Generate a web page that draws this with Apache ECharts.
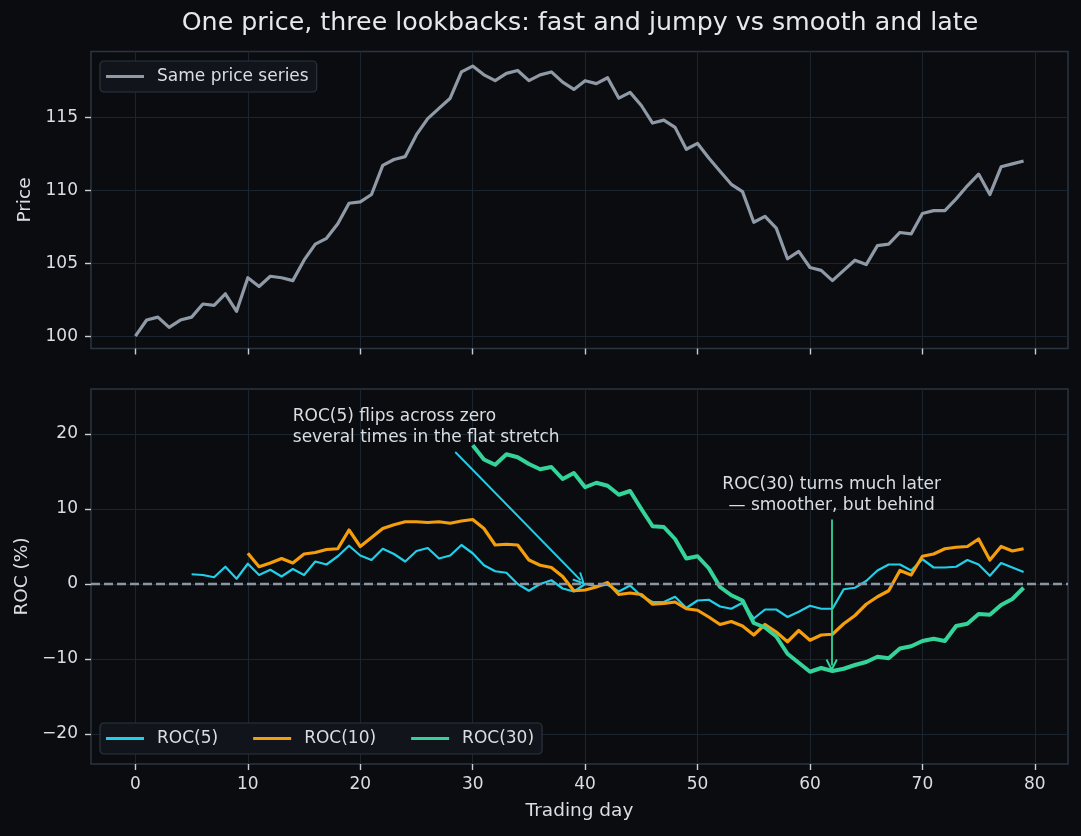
<!DOCTYPE html>
<html>
<head>
<meta charset="utf-8">
<title>One price, three lookbacks</title>
<script src="https://cdn.jsdelivr.net/npm/echarts@6.0.0/dist/echarts.min.js"></script>
<style>
  html, body { margin: 0; padding: 0; background: #0b0c10; }
  #chart { width: 1081px; height: 836px; }
</style>
</head>
<body>
<div id="chart"></div>
<script>
// values
var price = [
    100.0, 101.1, 101.3, 100.6, 101.1, 101.3, 102.2, 102.1, 102.9, 101.7,
    104.0, 103.4, 104.1, 104.0, 103.8, 105.2, 106.3, 106.7, 107.7, 109.1,
    109.2, 109.7, 111.7, 112.1, 112.3, 113.8, 114.9, 115.6, 116.3, 118.1,
    118.5, 117.9, 117.5, 118.0, 118.2, 117.5, 117.9, 118.1, 117.4, 116.9,
    117.5, 117.3, 117.7, 116.3, 116.7, 115.8, 114.6, 114.8, 114.3, 112.8,
    113.2, 112.2, 111.3, 110.4, 109.9, 107.8, 108.2, 107.4, 105.3, 105.8,
    104.7, 104.5, 103.8, 104.5, 105.2, 104.9, 106.2, 106.3, 107.1, 107.0,
    108.4, 108.6, 108.6, 109.4, 110.3, 111.1, 109.7, 111.6, 111.8, 112.0
];

var roc5Start = 5;
var roc5 = [
    1.3, 1.2, 0.9, 2.3, 0.7, 2.7, 1.2, 1.9, 1.0, 2.0,
    1.2, 3.0, 2.6, 3.7, 5.1, 3.8, 3.2, 4.7, 4.0, 3.0,
    4.4, 4.8, 3.4, 3.8, 5.2, 4.1, 2.5, 1.7, 1.5, 0.0,
    -0.9, 0.0, 0.5, -0.6, -1.0, 0.0, -0.3, -0.1, -1.0, -0.2,
    -1.6, -2.4, -2.4, -1.7, -3.2, -2.2, -2.1, -3.0, -3.3, -2.5,
    -4.6, -3.4, -3.4, -4.4, -3.7, -2.9, -3.3, -3.3, -0.7, -0.5,
    0.4, 1.8, 2.6, 2.6, 1.8, 3.3, 2.2, 2.2, 2.3, 3.2,
    2.6, 1.1, 2.8, 2.2, 1.6
];

var roc10Start = 10;
var roc10 = [
    4.1, 2.3, 2.8, 3.4, 2.8, 4.0, 4.2, 4.6, 4.7, 7.2,
    5.0, 6.2, 7.4, 7.9, 8.3, 8.3, 8.2, 8.3, 8.1, 8.4,
    8.6, 7.4, 5.2, 5.3, 5.2, 3.2, 2.5, 2.2, 1.0, -0.9,
    -0.8, -0.4, 0.2, -1.4, -1.2, -1.4, -2.7, -2.6, -2.4, -3.3,
    -3.5, -4.4, -5.4, -5.0, -5.6, -6.8, -5.4, -6.4, -7.7, -6.2,
    -7.5, -6.8, -6.7, -5.3, -4.2, -2.7, -1.7, -0.9, 1.8, 1.2,
    3.7, 4.0, 4.7, 4.9, 5.0, 6.0, 3.2, 5.0, 4.4, 4.7
];

var roc30Start = 30;
var roc30 = [
    18.5, 16.6, 15.9, 17.3, 16.9, 16.0, 15.3, 15.6, 14.0, 14.8,
    12.9, 13.5, 13.1, 11.9, 12.4, 10.0, 7.7, 7.6, 6.0, 3.4,
    3.7, 2.1, -0.4, -1.5, -2.2, -5.2, -5.8, -7.0, -9.3, -10.5,
    -11.7, -11.2, -11.6, -11.3, -10.8, -10.4, -9.7, -9.9, -8.6, -8.3,
    -7.6, -7.3, -7.6, -5.6, -5.3, -4.0, -4.1, -2.8, -2.0, -0.5
];

var dayTicks = [0, 10, 20, 30, 40, 50, 60, 70, 80];
var priceTicks = [100, 105, 110, 115];
var rocTicks = [-20, -10, 0, 10, 20];

var note5 = 'ROC(5) flips across zero\nseveral times in the flat stretch';
var note30 = 'ROC(30) turns much later\n\u2014 smoother, but behind';

var FONT = 'DejaVu Sans';
var TEXT = '#dadee3';
var GRIDLINE = '#1b2530';
var SPINE = '#2b3542';
// open "->" style head, tip at the top so ECharts turns it along the line
var CHEVRON = 'path://M5,0 L10,10 L8.6,10.9 L5,3.6 L1.4,10.9 L0,10 Z';

function toPoints(values, start) {
    return values.map(function (v, i) {
        return [start + i, v];
    });
}

function minusSign(v) {
    return v < 0 ? '\u2212' + Math.abs(v) : String(v);
}

function xAxis(gridIndex, showLabels) {
    return {
        type: 'value',
        gridIndex: gridIndex,
        min: -3.95,
        max: 82.95,
        name: showLabels ? 'Trading day' : '',
        nameLocation: 'middle',
        nameGap: 38,
        nameTextStyle: {color: TEXT, fontSize: 18.5, fontFamily: FONT},
        axisLine: {show: false, onZero: false},
        axisTick: {show: true, inside: false, length: 6, customValues: dayTicks,
            lineStyle: {color: '#c9ced4', width: 1.4}},
        axisLabel: {show: showLabels, customValues: dayTicks, margin: 12,
            color: TEXT, fontSize: 17, fontFamily: FONT},
        splitLine: {show: true, lineStyle: {color: GRIDLINE, width: 1}}
    };
}

function yAxis(gridIndex, name, min, max, ticks, gap) {
    return {
        type: 'value',
        gridIndex: gridIndex,
        min: min,
        max: max,
        name: name,
        nameLocation: 'middle',
        nameGap: gap,
        nameTextStyle: {color: TEXT, fontSize: 18.5, fontFamily: FONT},
        axisLine: {show: false, onZero: false},
        axisTick: {show: true, inside: false, length: 6, customValues: ticks,
            lineStyle: {color: '#c9ced4', width: 1.4}},
        axisLabel: {customValues: ticks, margin: 13, color: TEXT, fontSize: 17,
            fontFamily: FONT, formatter: minusSign},
        splitLine: {show: true, lineStyle: {color: GRIDLINE, width: 1}}
    };
}

function lineSeries(name, data, color, width, axisIndex) {
    return {
        name: name,
        type: 'line',
        xAxisIndex: axisIndex,
        yAxisIndex: axisIndex,
        data: data,
        showSymbol: false,
        symbol: 'none',
        color: color,
        itemStyle: {color: color},
        lineStyle: {color: color, width: width, join: 'round'}
    };
}

var legendBase = {
    icon: 'rect',
    itemWidth: 38,
    itemHeight: 3,
    selectedMode: false,
    padding: [7, 8, 7, 6],
    backgroundColor: '#11151b',
    borderColor: '#2b3440',
    borderWidth: 1.2,
    borderRadius: 4,
    textStyle: {color: TEXT, fontSize: 17, fontFamily: FONT, padding: [0, 0, 0, 8]}
};

var priceSeries = lineSeries('Same price series', toPoints(price, 0), '#8f9aa6', 3.2, 0);

var roc5Series = lineSeries('ROC(5)', toPoints(roc5, roc5Start), '#22cfe8', 2.2, 1);
roc5Series.markLine = {
    silent: true,
    symbol: ['none', CHEVRON],
    symbolSize: [12, 13],
    label: {show: false},
    lineStyle: {color: '#22cfe8', width: 1.8, type: 'solid'},
    data: [[{coord: [28.45, 17.6]}, {coord: [39.6, 0.5]}]]
};
roc5Series.markPoint = {
    silent: true,
    symbolSize: 0,
    itemStyle: {color: 'transparent'},
    label: {show: true, position: [0, 0], align: 'left', verticalAlign: 'bottom',
        color: TEXT, fontSize: 17, lineHeight: 21, fontFamily: FONT},
    data: [{coord: [14, 18.15], label: {formatter: note5}}]
};

var roc10Series = lineSeries('ROC(10)', toPoints(roc10, roc10Start), '#f59e0b', 3.2, 1);
roc10Series.markLine = {
    silent: true,
    symbol: ['none', 'none'],
    label: {show: false},
    lineStyle: {color: '#8b95a1', width: 2.4, type: [9, 4]},
    data: [{yAxis: 0}]
};

var roc30Series = lineSeries('ROC(30)', toPoints(roc30, roc30Start), '#34d399', 4, 1);
roc30Series.markLine = {
    silent: true,
    symbol: ['none', CHEVRON],
    symbolSize: [12, 13],
    label: {show: false},
    lineStyle: {color: '#34d399', width: 1.8, type: 'solid'},
    data: [[{coord: [61.93, 8.6]}, {coord: [61.93, -10.85]}]]
};
roc30Series.markPoint = {
    silent: true,
    symbolSize: 0,
    itemStyle: {color: 'transparent'},
    label: {show: true, position: [0, 0], align: 'center', verticalAlign: 'bottom',
        color: TEXT, fontSize: 17, lineHeight: 21, fontFamily: FONT},
    data: [{coord: [61.93, 9.0], label: {formatter: note30}}]
};

var chart = echarts.init(document.getElementById('chart'));

var option = {
    backgroundColor: '#0b0c10',
    animation: false,
    title: {
        text: 'One price, three lookbacks: fast and jumpy vs smooth and late',
        left: 580,
        top: 11,
        textAlign: 'center',
        padding: 0,
        textStyle: {color: '#e6e8eb', fontSize: 25.3, fontWeight: 'normal', fontFamily: FONT}
    },
    legend: [
        echarts.util.merge({data: ['Same price series'], left: 100, top: 61}, legendBase, false),
        echarts.util.merge({data: ['ROC(5)', 'ROC(10)', 'ROC(30)'], left: 100, top: 723, itemGap: 35}, legendBase, false)
    ],
    grid: [
        {left: 91, right: 13, top: 51.5, height: 297, show: true, backgroundColor: 'transparent',
            borderColor: SPINE, borderWidth: 1.5},
        {left: 91, right: 13, top: 389, height: 375, show: true, backgroundColor: 'transparent',
            borderColor: SPINE, borderWidth: 1.5}
    ],
    xAxis: [xAxis(0, false), xAxis(1, true)],
    yAxis: [
        yAxis(0, 'Price', 99.15, 119.5, priceTicks, 48),
        yAxis(1, 'ROC (%)', -24, 26, rocTicks, 56)
    ],
    series: [priceSeries, roc5Series, roc10Series, roc30Series]
};

chart.setOption(option);
</script>
</body>
</html>
